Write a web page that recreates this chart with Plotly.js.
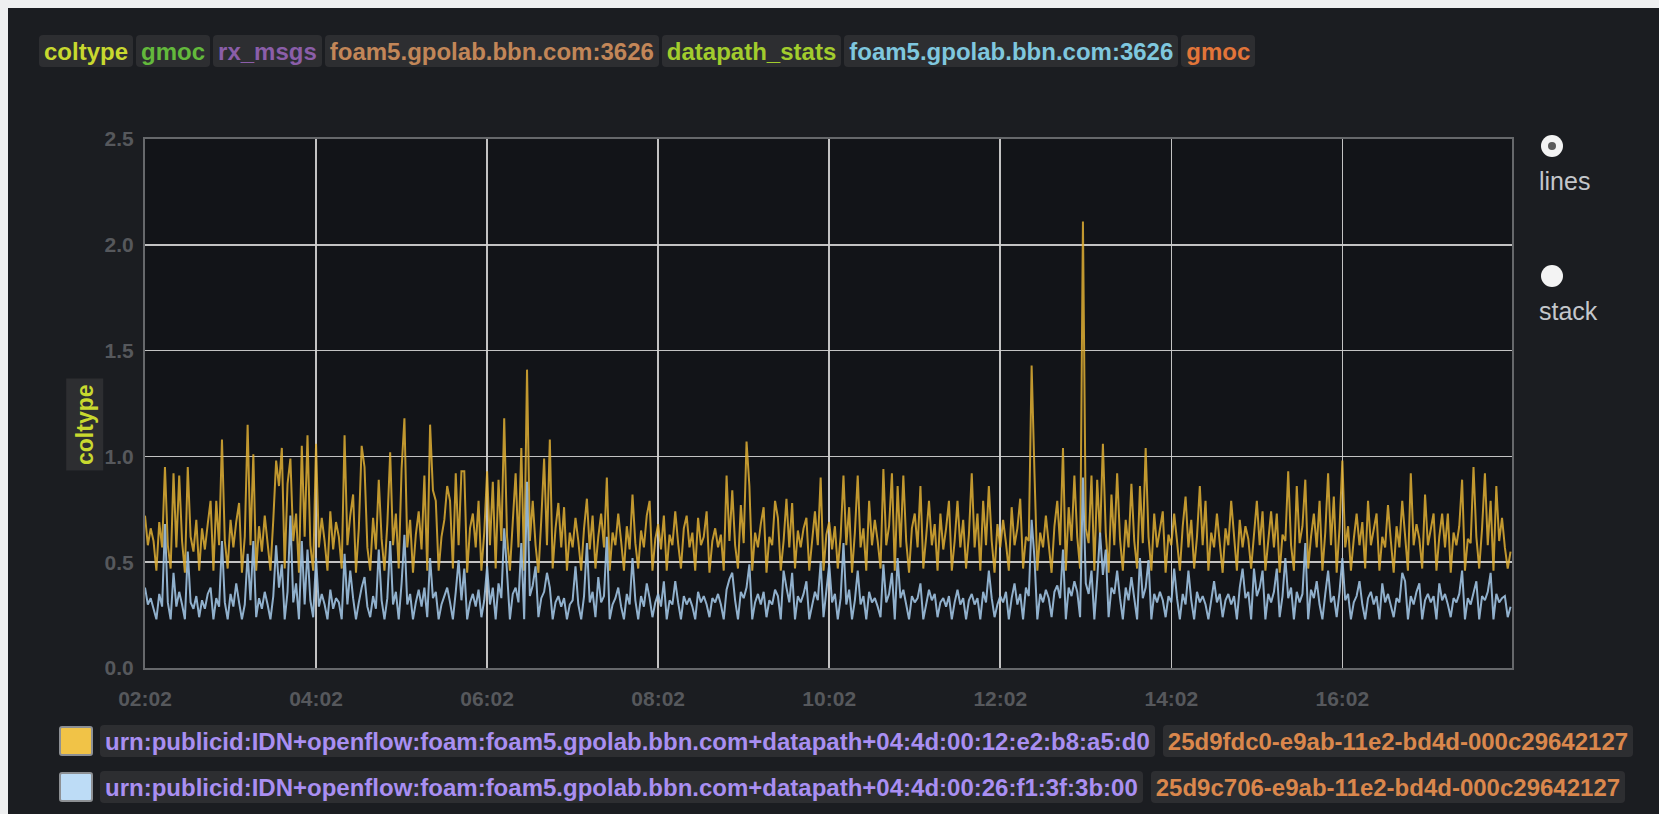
<!DOCTYPE html>
<html>
<head>
<meta charset="utf-8">
<script src="https://cdn.plot.ly/plotly-3.0.1.min.js"></script>
<style>
html,body{margin:0;padding:0;width:1659px;height:814px;overflow:hidden;background:#eeeff0;font-family:"Liberation Sans",Arial,sans-serif;}
#panel{position:absolute;left:8px;top:8px;width:1651px;height:806px;background:#1b1d21;}
#chart{position:absolute;left:0;top:0;width:1659px;height:814px;}
.tagbar{position:absolute;left:39px;top:35px;display:flex;gap:3px;}
.tag{height:32px;line-height:33px;padding:0 5px;background:#2d2e31;border-radius:4px;font-weight:bold;font-size:24px;white-space:nowrap;}
.lrow{position:absolute;left:59px;display:flex;align-items:center;gap:0;}
.sw{width:30px;height:26px;border:2px solid #8d9094;border-radius:3px;margin-right:7px;}
.lbox{height:32px;line-height:33px;padding:0 5px;background:#2d2e31;border-radius:4px;font-weight:bold;font-size:24px;white-space:nowrap;margin-right:8px;}
.radio{position:absolute;width:22px;height:22px;border-radius:50%;background:#f3f3f3;}
.radio.sel::after{content:'';position:absolute;left:7px;top:7px;width:8px;height:8px;border-radius:50%;background:#5a5a5a;}
.rlabel{position:absolute;color:#c4c7cb;font-size:25px;}
</style>
</head>
<body>
<div id="panel"></div>
<div id="chart"></div>
<div class="tagbar" id="tagbar"></div>
<div class="radio sel" style="left:1541px;top:135px;"></div>
<div class="rlabel" style="left:1539px;top:167px;">lines</div>
<div class="radio" style="left:1541px;top:265px;"></div>
<div class="rlabel" style="left:1539px;top:297px;">stack</div>
<div id="legend"></div>
<script>
// ---- data ----
const tagLabels = ['coltype','gmoc','rx_msgs','foam5.gpolab.bbn.com:3626','datapath_stats','foam5.gpolab.bbn.com:3626','gmoc'];
const tagColors = ['#c8d92f','#63b93c','#8b5ea9','#c28658','#a2cc2d','#7fc7de','#e27539'];

const seriesNames = [
  'urn:publicid:IDN+openflow:foam:foam5.gpolab.bbn.com+datapath+04:4d:00:12:e2:b8:a5:d0',
  'urn:publicid:IDN+openflow:foam:foam5.gpolab.bbn.com+datapath+04:4d:00:26:f1:3f:3b:00'
];
const seriesIds = ['25d9fdc0-e9ab-11e2-bd4d-000c29642127','25d9c706-e9ab-11e2-bd4d-000c29642127'];

const startTime = Date.UTC(2013,6,12,2,2);   // 02:02
const stepMinutes = 2;
const yTickVals = [0,0.5,1.0,1.5,2.0,2.5];
const yAxisTitle = 'coltype';

const yellowVals = [
0.72,0.58,0.66,0.60,0.46,0.69,0.57,0.95,0.58,0.47,
0.92,0.57,0.91,0.60,0.45,0.95,0.62,0.55,0.70,0.46,
0.66,0.56,0.68,0.79,0.46,0.79,0.58,1.08,0.60,0.47,
0.70,0.57,0.69,0.78,0.45,0.62,1.15,0.58,1.01,0.46,
0.67,0.55,0.72,0.59,0.46,0.70,0.98,0.86,1.04,0.47,
0.87,0.99,0.60,0.73,0.45,1.05,0.62,1.10,0.58,0.46,
1.06,0.57,0.71,0.60,0.46,0.74,0.56,0.69,0.62,0.47,
1.10,0.58,0.72,0.82,0.45,0.66,1.05,0.95,0.57,0.46,
0.71,0.56,0.89,0.61,0.46,0.68,1.02,0.58,0.73,0.47,
0.94,1.18,0.57,0.70,0.45,0.63,0.74,0.56,0.91,0.46,
1.15,0.84,0.79,0.46,0.62,0.70,0.86,0.79,0.47,0.92,
0.58,0.93,0.93,0.45,0.66,0.73,0.57,0.79,0.46,0.64,
0.93,0.58,0.88,0.47,0.89,0.60,1.18,0.62,0.46,0.69,
0.92,0.57,1.04,0.46,1.41,0.60,0.79,0.58,0.45,0.70,
0.99,0.58,1.08,0.47,0.66,0.78,0.57,0.76,0.46,0.64,
0.57,0.71,0.60,0.46,0.66,0.80,0.56,0.72,0.47,0.62,
0.73,0.57,0.90,0.46,0.64,0.58,0.73,0.60,0.46,0.67,
0.56,0.82,0.59,0.47,0.65,0.57,0.72,0.79,0.46,0.61,
0.68,0.56,0.72,0.46,0.63,0.58,0.74,0.59,0.47,0.66,
0.72,0.57,0.64,0.46,0.71,0.58,0.62,0.74,0.45,0.60,
0.66,0.57,0.63,0.46,0.91,0.60,0.84,0.58,0.47,0.77,
0.59,1.07,0.86,0.46,0.64,0.57,0.68,0.76,0.45,0.62,
0.58,0.79,0.71,0.46,0.60,0.80,0.57,0.78,0.47,0.65,
0.57,0.66,0.71,0.46,0.59,0.74,0.58,0.90,0.46,0.63,
0.69,0.56,0.67,0.47,0.62,0.91,0.58,0.76,0.45,0.64,
0.91,0.57,0.66,0.46,0.79,0.58,0.70,0.60,0.47,0.94,
0.58,0.67,0.92,0.46,0.86,0.57,0.91,0.60,0.45,0.66,
0.73,0.57,0.86,0.47,0.62,0.79,0.58,0.68,0.46,0.73,
0.56,0.66,0.79,0.46,0.60,0.79,0.57,0.70,0.47,0.63,
0.92,0.57,0.73,0.46,0.79,0.58,0.86,0.60,0.45,0.68,
0.57,0.70,0.59,0.46,0.76,0.58,0.66,0.80,0.47,0.62,
0.60,1.43,0.92,0.46,0.64,0.57,0.72,0.59,0.45,0.67,
0.79,0.58,1.04,0.46,0.76,0.60,0.91,0.62,0.47,2.11,
0.66,0.59,0.91,0.46,0.89,0.62,1.06,0.64,0.45,0.82,
0.58,0.92,0.61,0.46,0.70,0.57,0.87,0.60,0.47,0.86,
0.59,1.04,0.62,0.46,0.73,0.57,0.66,0.74,0.45,0.63,
0.58,0.73,0.60,0.46,0.67,0.81,0.57,0.70,0.47,0.62,
0.86,0.58,0.79,0.46,0.64,0.57,0.73,0.60,0.45,0.66,
0.58,0.79,0.60,0.46,0.70,0.57,0.67,0.61,0.47,0.64,
0.79,0.58,0.74,0.46,0.62,0.74,0.57,0.73,0.45,0.63,
0.60,0.93,0.58,0.46,0.86,0.59,0.67,0.89,0.47,0.62,
0.73,0.57,0.79,0.46,0.64,0.92,0.58,0.81,0.45,0.66,
0.98,0.57,0.67,0.46,0.61,0.73,0.58,0.69,0.47,0.79,
0.58,0.66,0.73,0.46,0.62,0.57,0.77,0.60,0.45,0.67,
0.57,0.79,0.60,0.46,0.92,0.58,0.68,0.61,0.47,0.82,
0.58,0.66,0.73,0.46,0.62,0.73,0.57,0.73,0.45,0.64,
0.58,0.67,0.89,0.46,0.61,0.59,0.95,0.62,0.47,0.66,
0.92,0.58,0.79,0.46,0.86,0.60,0.71,0.57,0.47,0.55
];

const blueVals = [
0.38,0.30,0.33,0.28,0.23,0.35,0.29,0.68,0.31,0.23,
0.45,0.29,0.36,0.30,0.23,0.55,0.31,0.28,0.34,0.24,
0.32,0.28,0.35,0.38,0.23,0.33,0.29,0.60,0.31,0.23,
0.35,0.29,0.40,0.31,0.23,0.30,0.54,0.32,0.60,0.24,
0.33,0.28,0.36,0.30,0.23,0.34,0.58,0.38,0.49,0.23,
0.36,0.72,0.31,0.40,0.23,0.60,0.30,0.56,0.32,0.24,
0.52,0.29,0.35,0.30,0.23,0.37,0.28,0.33,0.31,0.23,
0.54,0.30,0.46,0.33,0.23,0.31,0.38,0.43,0.29,0.24,
0.34,0.28,0.56,0.32,0.23,0.33,0.60,0.30,0.36,0.23,
0.40,0.63,0.30,0.35,0.23,0.31,0.37,0.29,0.38,0.24,
0.52,0.33,0.36,0.23,0.30,0.34,0.38,0.31,0.23,0.36,
0.51,0.32,0.47,0.23,0.31,0.35,0.29,0.37,0.24,0.32,
0.48,0.30,0.38,0.23,0.40,0.33,0.66,0.45,0.23,0.35,
0.38,0.31,0.59,0.23,0.88,0.34,0.39,0.48,0.24,0.33,
0.36,0.45,0.38,0.23,0.31,0.34,0.29,0.33,0.23,0.30,
0.32,0.48,0.30,0.23,0.34,0.59,0.31,0.36,0.24,0.43,
0.31,0.34,0.62,0.23,0.30,0.33,0.38,0.29,0.23,0.35,
0.30,0.52,0.32,0.23,0.34,0.29,0.40,0.33,0.24,0.31,
0.35,0.29,0.41,0.23,0.32,0.30,0.41,0.31,0.23,0.34,
0.30,0.33,0.29,0.23,0.36,0.31,0.34,0.30,0.24,0.33,
0.31,0.35,0.30,0.23,0.37,0.42,0.45,0.32,0.23,0.36,
0.33,0.38,0.49,0.23,0.31,0.35,0.30,0.36,0.24,0.32,
0.30,0.37,0.34,0.23,0.46,0.38,0.31,0.45,0.23,0.34,
0.31,0.35,0.41,0.23,0.30,0.36,0.32,0.50,0.24,0.38,
0.49,0.31,0.35,0.23,0.33,0.59,0.30,0.37,0.23,0.32,
0.46,0.30,0.34,0.23,0.36,0.31,0.33,0.29,0.24,0.49,
0.31,0.35,0.45,0.23,0.52,0.33,0.37,0.30,0.23,0.34,
0.31,0.33,0.40,0.23,0.30,0.37,0.32,0.35,0.24,0.31,
0.33,0.29,0.34,0.23,0.31,0.37,0.30,0.33,0.23,0.32,
0.35,0.30,0.33,0.23,0.36,0.31,0.46,0.33,0.24,0.30,
0.34,0.31,0.36,0.23,0.33,0.40,0.30,0.35,0.23,0.38,
0.34,0.70,0.52,0.23,0.35,0.31,0.37,0.33,0.24,0.36,
0.39,0.33,0.56,0.23,0.38,0.34,0.41,0.36,0.24,0.90,
0.40,0.35,0.46,0.23,0.42,0.64,0.44,0.56,0.24,0.38,
0.35,0.46,0.33,0.23,0.38,0.32,0.43,0.34,0.23,0.52,
0.33,0.38,0.51,0.23,0.35,0.31,0.36,0.32,0.24,0.34,
0.31,0.47,0.33,0.23,0.35,0.30,0.46,0.32,0.23,0.36,
0.31,0.34,0.30,0.23,0.33,0.41,0.31,0.35,0.24,0.32,
0.35,0.30,0.34,0.23,0.38,0.47,0.33,0.36,0.23,0.47,
0.34,0.38,0.46,0.23,0.35,0.31,0.36,0.47,0.24,0.34,
0.52,0.33,0.38,0.23,0.36,0.31,0.35,0.59,0.23,0.37,
0.33,0.41,0.30,0.23,0.35,0.46,0.31,0.34,0.24,0.36,
0.52,0.32,0.35,0.23,0.31,0.34,0.41,0.30,0.23,0.33,
0.36,0.30,0.34,0.23,0.40,0.31,0.35,0.30,0.24,0.33,
0.31,0.45,0.41,0.23,0.34,0.30,0.36,0.40,0.23,0.32,
0.35,0.31,0.34,0.23,0.40,0.32,0.35,0.30,0.24,0.33,
0.31,0.35,0.46,0.23,0.33,0.30,0.36,0.41,0.23,0.34,
0.32,0.36,0.45,0.23,0.35,0.31,0.33,0.34,0.24,0.29
];

const lineColors = ['rgba(225,175,52,0.85)','rgba(155,190,220,0.92)'];
const swatchColors = ['#f1c347','#bddcf6'];

// ---- build ----
const times = yellowVals.map((_, i) => startTime + i * stepMinutes * 60000);

const tb = document.getElementById('tagbar');
tagLabels.forEach((t, i) => {
  const d = document.createElement('div');
  d.className = 'tag'; d.textContent = t; d.style.color = tagColors[i];
  tb.appendChild(d);
});

const lg = document.getElementById('legend');
[725, 771].forEach((top, i) => {
  const row = document.createElement('div');
  row.className = 'lrow'; row.style.top = top + 'px';
  row.innerHTML = '<div class="sw" style="background:' + swatchColors[i] + '"></div>' +
    '<div class="lbox" style="color:#a98ff2">' + seriesNames[i] + '</div>' +
    '<div class="lbox" style="color:#da874c">' + seriesIds[i] + '</div>';
  lg.appendChild(row);
});

const traces = [
  {x: times, y: yellowVals, type: 'scatter', mode: 'lines', name: seriesNames[0],
   line: {color: lineColors[0], width: 2}, hoverinfo: 'skip'},
  {x: times, y: blueVals, type: 'scatter', mode: 'lines', name: seriesNames[1],
   line: {color: lineColors[1], width: 2}, hoverinfo: 'skip'}
];

const layout = {
  width: 1659, height: 814,
  margin: {l: 145, r: 147, t: 139, b: 146},
  paper_bgcolor: 'rgba(0,0,0,0)',
  plot_bgcolor: '#121418',
  showlegend: false,
  font: {family: '"Liberation Sans", Arial, sans-serif'},
  xaxis: {
    type: 'date',
    range: [startTime, Date.UTC(2013,6,12,18,1)],
    tick0: startTime, dtick: 7200000, tickformat: '%H:%M',
    showgrid: true, gridcolor: 'rgba(210,210,210,0.92)', gridwidth: 1.6,
    showline: true, linecolor: '#66686b', linewidth: 2, mirror: true,
    zeroline: false, ticks: '', ticklabelstandoff: 11,
    tickfont: {size: 21, color: '#56585c', weight: 'bold'}
  },
  yaxis: {
    range: [0, 2.5], tickvals: yTickVals, tickformat: '.1f',
    showgrid: true, gridcolor: 'rgba(210,210,210,0.92)', gridwidth: 1.6,
    showline: true, linecolor: '#66686b', linewidth: 2, mirror: true,
    zeroline: false, ticks: '', ticklabelstandoff: 5,
    tickfont: {size: 21, color: '#56585c', weight: 'bold'}
  },
  annotations: [{
    text: yAxisTitle, xref: 'paper', yref: 'paper', x: -0.044, y: 0.461,
    xanchor: 'center', yanchor: 'middle', textangle: -90, showarrow: false,
    font: {size: 23, color: '#c8d92f', weight: 'bold'},
    bgcolor: '#2d2e31', borderpad: 5
  }]
};

Plotly.newPlot('chart', traces, layout, {displayModeBar: false, staticPlot: true});
</script>
</body>
</html>
